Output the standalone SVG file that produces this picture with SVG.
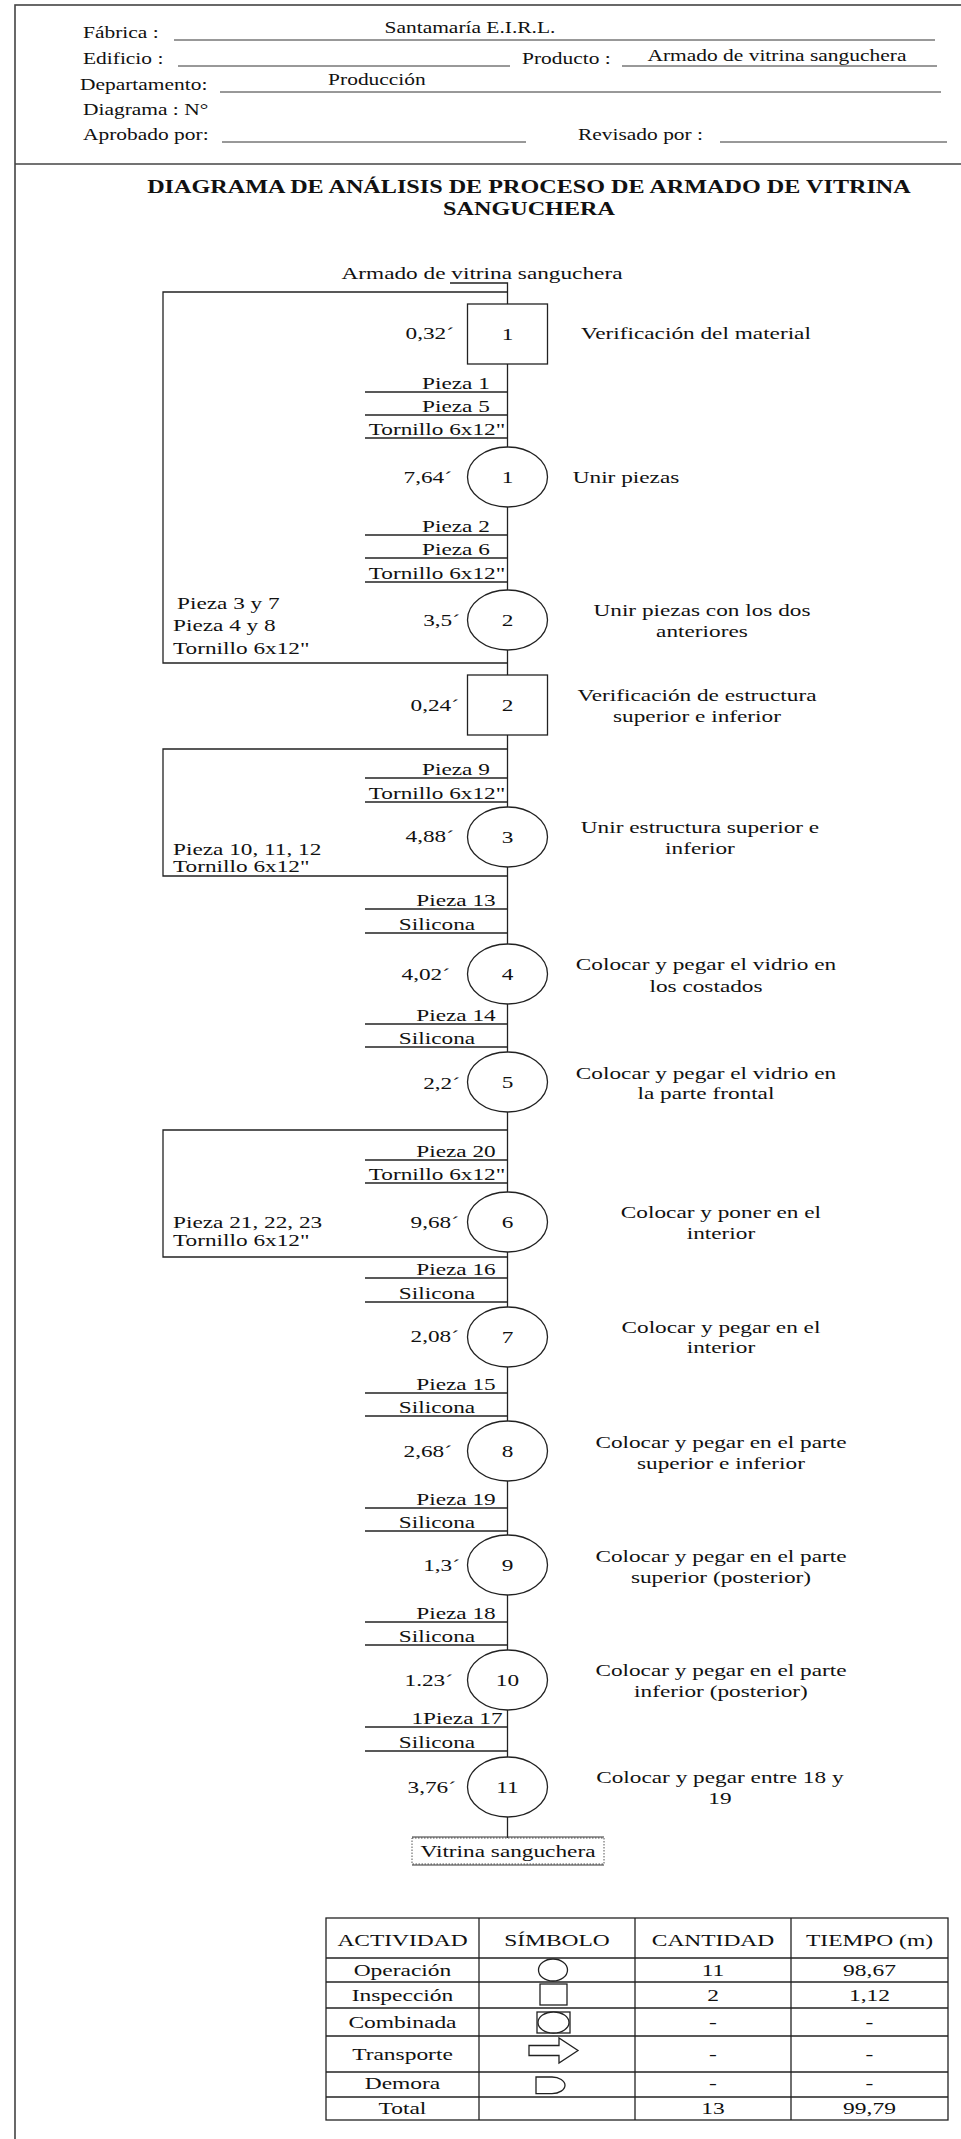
<svg xmlns="http://www.w3.org/2000/svg" width="961" height="2139" viewBox="0 0 961 2139">
<style>
text{font-family:"Liberation Serif","Times New Roman",serif;fill:#111;transform-box:fill-box}
.h{font-size:16.5px;transform:scaleX(1.3)}
.f{font-size:17.5px;transform:scaleX(1.33)}
.t{font-size:17px;transform:scaleX(1.38)}
.ttl{font-size:19.5px;font-weight:bold;transform:scaleX(1.24)}
.s{text-anchor:start;transform-origin:left center}
.m{text-anchor:middle;transform-origin:center center}
.e{text-anchor:end;transform-origin:right center}
.ln{stroke:#222;stroke-width:1.3;fill:none}
.shape{stroke:#222;stroke-width:1.3;fill:#fff}
.frame{stroke:#444;stroke-width:1.6;fill:none}
.ul{stroke:#333;stroke-width:1;fill:none}
</style>
<rect width="961" height="2139" fill="#fff"/>
<g id="frame">
<rect class="frame" x="15" y="5" width="960" height="2145"/>
<line class="frame" x1="15" y1="164" x2="961" y2="164"/>
</g>
<g id="header">
<text class="h s" x="83" y="38">Fábrica :</text>
<line class="ul" x1="174" y1="40" x2="935" y2="40"/>
<text class="h m" x="470" y="33">Santamaría E.I.R.L.</text>
<text class="h s" x="83" y="64">Edificio :</text>
<line class="ul" x1="178" y1="66" x2="510" y2="66"/>
<text class="h s" x="522" y="64">Producto :</text>
<line class="ul" x1="622" y1="66" x2="937" y2="66"/>
<text class="h m" x="777" y="61">Armado de vitrina sanguchera</text>
<text class="h s" x="80" y="90">Departamento:</text>
<line class="ul" x1="220" y1="92" x2="941" y2="92"/>
<text class="h m" x="377" y="85">Producción</text>
<text class="h s" x="83" y="115">Diagrama : N°</text>
<text class="h s" x="83" y="140">Aprobado por:</text>
<line class="ul" x1="222" y1="142" x2="526" y2="142"/>
<text class="h s" x="578" y="140">Revisado por :</text>
<line class="ul" x1="720" y1="142" x2="947" y2="142"/>
</g>
<g id="title">
<text class="ttl m" x="529" y="193">DIAGRAMA DE ANÁLISIS DE PROCESO DE ARMADO DE VITRINA</text>
<text class="ttl m" x="529" y="215">SANGUCHERA</text>
</g>
<g id="connectors">
<path class="ln" d="M450,283 H507.5 V1838"/>
<polyline class="ln" points="507.5,292 163,292 163,663 507.5,663"/>
<polyline class="ln" points="507.5,749 163,749 163,876 507.5,876"/>
<polyline class="ln" points="507.5,1130 163,1130 163,1257 507.5,1257"/>
<g>
<line class="ln" x1="365" y1="392" x2="507.5" y2="392"/>
<line class="ln" x1="365" y1="415" x2="507.5" y2="415"/>
<line class="ln" x1="365" y1="438" x2="507.5" y2="438"/>
<line class="ln" x1="365" y1="535" x2="507.5" y2="535"/>
<line class="ln" x1="365" y1="558" x2="507.5" y2="558"/>
<line class="ln" x1="365" y1="582" x2="507.5" y2="582"/>
<line class="ln" x1="365" y1="778" x2="507.5" y2="778"/>
<line class="ln" x1="365" y1="802" x2="507.5" y2="802"/>
<line class="ln" x1="365" y1="909" x2="507.5" y2="909"/>
<line class="ln" x1="365" y1="933" x2="507.5" y2="933"/>
<line class="ln" x1="365" y1="1024" x2="507.5" y2="1024"/>
<line class="ln" x1="365" y1="1047" x2="507.5" y2="1047"/>
<line class="ln" x1="365" y1="1160" x2="507.5" y2="1160"/>
<line class="ln" x1="365" y1="1183" x2="507.5" y2="1183"/>
<line class="ln" x1="365" y1="1278" x2="507.5" y2="1278"/>
<line class="ln" x1="365" y1="1302" x2="507.5" y2="1302"/>
<line class="ln" x1="365" y1="1393" x2="507.5" y2="1393"/>
<line class="ln" x1="365" y1="1416" x2="507.5" y2="1416"/>
<line class="ln" x1="365" y1="1508" x2="507.5" y2="1508"/>
<line class="ln" x1="365" y1="1531" x2="507.5" y2="1531"/>
<line class="ln" x1="365" y1="1622" x2="507.5" y2="1622"/>
<line class="ln" x1="365" y1="1645" x2="507.5" y2="1645"/>
<line class="ln" x1="365" y1="1727" x2="507.5" y2="1727"/>
<line class="ln" x1="365" y1="1751" x2="507.5" y2="1751"/>
</g>
</g>
<g id="inputs">
<text class="f m" x="482" y="279">Armado de vitrina sanguchera</text>
<text class="f m" x="456" y="389">Pieza 1</text>
<text class="f m" x="456" y="412">Pieza 5</text>
<text class="f m" x="437" y="435">Tornillo 6x12"</text>
<text class="f m" x="456" y="532">Pieza 2</text>
<text class="f m" x="456" y="555">Pieza 6</text>
<text class="f m" x="437" y="579">Tornillo 6x12"</text>
<text class="f s" x="177" y="609">Pieza 3 y 7</text>
<text class="f s" x="173" y="631">Pieza 4 y 8</text>
<text class="f s" x="173" y="654">Tornillo 6x12"</text>
<text class="f m" x="456" y="775">Pieza 9</text>
<text class="f m" x="437" y="799">Tornillo 6x12"</text>
<text class="f s" x="173" y="855">Pieza 10, 11, 12</text>
<text class="f s" x="173" y="872">Tornillo 6x12"</text>
<text class="f m" x="456" y="906">Pieza 13</text>
<text class="f m" x="437" y="930">Silicona</text>
<text class="f m" x="456" y="1021">Pieza 14</text>
<text class="f m" x="437" y="1044">Silicona</text>
<text class="f m" x="456" y="1157">Pieza 20</text>
<text class="f m" x="437" y="1180">Tornillo 6x12"</text>
<text class="f s" x="173" y="1228">Pieza 21, 22, 23</text>
<text class="f s" x="173" y="1246">Tornillo 6x12"</text>
<text class="f m" x="456" y="1275">Pieza 16</text>
<text class="f m" x="437" y="1299">Silicona</text>
<text class="f m" x="456" y="1390">Pieza 15</text>
<text class="f m" x="437" y="1413">Silicona</text>
<text class="f m" x="456" y="1505">Pieza 19</text>
<text class="f m" x="437" y="1528">Silicona</text>
<text class="f m" x="456" y="1619">Pieza 18</text>
<text class="f m" x="437" y="1642">Silicona</text>
<text class="f m" x="457" y="1724">1Pieza 17</text>
<text class="f m" x="437" y="1748">Silicona</text>
</g>
<g id="insp1">
<rect class="shape" x="467.5" y="304" width="80" height="60"/>
<text class="f m" x="507.5" y="340">1</text>
<text class="f e" x="454" y="339">0,32´</text>
<text class="f m" x="696" y="339">Verificación del material</text>
</g>
<g id="op1">
<ellipse class="shape" cx="507.5" cy="477" rx="40" ry="30"/>
<text class="f m" x="507.5" y="483">1</text>
<text class="f e" x="452" y="483">7,64´</text>
<text class="f m" x="626" y="483">Unir piezas</text>
</g>
<g id="op2">
<ellipse class="shape" cx="507.5" cy="620" rx="40" ry="30"/>
<text class="f m" x="507.5" y="626">2</text>
<text class="f e" x="460" y="626">3,5´</text>
<text class="f m" x="702" y="616">Unir piezas con los dos</text>
<text class="f m" x="702" y="637">anteriores</text>
</g>
<g id="insp2">
<rect class="shape" x="467.5" y="675" width="80" height="60"/>
<text class="f m" x="507.5" y="711">2</text>
<text class="f e" x="459" y="711">0,24´</text>
<text class="f m" x="697" y="701">Verificación de estructura</text>
<text class="f m" x="697" y="722">superior e inferior</text>
</g>
<g id="op3">
<ellipse class="shape" cx="507.5" cy="837" rx="40" ry="30"/>
<text class="f m" x="507.5" y="843">3</text>
<text class="f e" x="454" y="842">4,88´</text>
<text class="f m" x="700" y="833">Unir estructura superior e</text>
<text class="f m" x="700" y="854">inferior</text>
</g>
<g id="op4">
<ellipse class="shape" cx="507.5" cy="974" rx="40" ry="30"/>
<text class="f m" x="507.5" y="980">4</text>
<text class="f e" x="450" y="980">4,02´</text>
<text class="f m" x="706" y="970">Colocar y pegar el vidrio en</text>
<text class="f m" x="706" y="992">los costados</text>
</g>
<g id="op5">
<ellipse class="shape" cx="507.5" cy="1082" rx="40" ry="30"/>
<text class="f m" x="507.5" y="1088">5</text>
<text class="f e" x="460" y="1089">2,2´</text>
<text class="f m" x="706" y="1079">Colocar y pegar el vidrio en</text>
<text class="f m" x="706" y="1099">la parte frontal</text>
</g>
<g id="op6">
<ellipse class="shape" cx="507.5" cy="1222" rx="40" ry="30"/>
<text class="f m" x="507.5" y="1228">6</text>
<text class="f e" x="459" y="1228">9,68´</text>
<text class="f m" x="721" y="1218">Colocar y poner en el</text>
<text class="f m" x="721" y="1239">interior</text>
</g>
<g id="op7">
<ellipse class="shape" cx="507.5" cy="1337" rx="40" ry="30"/>
<text class="f m" x="507.5" y="1343">7</text>
<text class="f e" x="459" y="1342">2,08´</text>
<text class="f m" x="721" y="1333">Colocar y pegar en el</text>
<text class="f m" x="721" y="1353">interior</text>
</g>
<g id="op8">
<ellipse class="shape" cx="507.5" cy="1451" rx="40" ry="30"/>
<text class="f m" x="507.5" y="1457">8</text>
<text class="f e" x="452" y="1457">2,68´</text>
<text class="f m" x="721" y="1448">Colocar y pegar en el parte</text>
<text class="f m" x="721" y="1469">superior e inferior</text>
</g>
<g id="op9">
<ellipse class="shape" cx="507.5" cy="1565" rx="40" ry="30"/>
<text class="f m" x="507.5" y="1571">9</text>
<text class="f e" x="460" y="1571">1,3´</text>
<text class="f m" x="721" y="1562">Colocar y pegar en el parte</text>
<text class="f m" x="721" y="1583">superior (posterior)</text>
</g>
<g id="op10">
<ellipse class="shape" cx="507.5" cy="1680" rx="40" ry="30"/>
<text class="f m" x="507.5" y="1686">10</text>
<text class="f e" x="453" y="1686">1.23´</text>
<text class="f m" x="721" y="1676">Colocar y pegar en el parte</text>
<text class="f m" x="721" y="1697">inferior (posterior)</text>
</g>
<g id="op11">
<ellipse class="shape" cx="507.5" cy="1787" rx="40" ry="30"/>
<text class="f m" x="507.5" y="1793">11</text>
<text class="f e" x="456" y="1793">3,76´</text>
<text class="f m" x="720" y="1783">Colocar y pegar entre 18 y</text>
<text class="f m" x="720" y="1804">19</text>
</g>
<g id="product">
<rect x="412" y="1838" width="192" height="26" fill="#fff" stroke="#555" stroke-width="1" stroke-dasharray="1.5,1.5"/>
<line class="ul" x1="412" y1="1837" x2="604" y2="1837"/>
<line class="ul" x1="412" y1="1865" x2="604" y2="1865"/>
<text class="f m" x="508" y="1857">Vitrina sanguchera</text>
</g>
<g id="summary-table">
<rect class="ln" x="326" y="1918" width="622" height="202"/>
<g class="ln">
<line x1="479" y1="1918" x2="479" y2="2120"/>
<line x1="635" y1="1918" x2="635" y2="2120"/>
<line x1="791" y1="1918" x2="791" y2="2120"/>
<line x1="326" y1="1958" x2="948" y2="1958"/>
<line x1="326" y1="1982" x2="948" y2="1982"/>
<line x1="326" y1="2008" x2="948" y2="2008"/>
<line x1="326" y1="2036" x2="948" y2="2036"/>
<line x1="326" y1="2072" x2="948" y2="2072"/>
<line x1="326" y1="2097" x2="948" y2="2097"/>
</g>
<text class="t m" x="402.5" y="1946">ACTIVIDAD</text>
<text class="t m" x="557" y="1946">SÍMBOLO</text>
<text class="t m" x="713" y="1946">CANTIDAD</text>
<text class="t m" x="869.5" y="1946">TIEMPO (m)</text>
<text class="t m" x="402.5" y="1976">Operación</text>
<text class="t m" x="402.5" y="2001">Inspección</text>
<text class="t m" x="402.5" y="2028">Combinada</text>
<text class="t m" x="402.5" y="2060">Transporte</text>
<text class="t m" x="402.5" y="2089">Demora</text>
<text class="t m" x="402.5" y="2114">Total</text>
<ellipse class="shape" cx="553" cy="1970" rx="14.5" ry="11"/>
<rect class="shape" x="540" y="1984" width="27" height="21"/>
<rect class="shape" x="537" y="2012" width="33" height="21"/>
<ellipse class="shape" cx="553.5" cy="2022.5" rx="15.5" ry="10.5"/>
<polygon class="shape" points="529,2045.5 559,2045.5 559,2038 578,2050.5 559,2063 559,2055.5 529,2055.5"/>
<path class="shape" d="M536,2077 H552 A13,8.3 0 0 1 552,2093.6 H536 Z"/>
<text class="t m" x="713" y="1976">11</text>
<text class="t m" x="869.5" y="1976">98,67</text>
<text class="t m" x="713" y="2001">2</text>
<text class="t m" x="869.5" y="2001">1,12</text>
<text class="t m" x="713" y="2028">-</text>
<text class="t m" x="869.5" y="2028">-</text>
<text class="t m" x="713" y="2060">-</text>
<text class="t m" x="869.5" y="2060">-</text>
<text class="t m" x="713" y="2089">-</text>
<text class="t m" x="869.5" y="2089">-</text>
<text class="t m" x="713" y="2114">13</text>
<text class="t m" x="869.5" y="2114">99,79</text>
</g>
</svg>
